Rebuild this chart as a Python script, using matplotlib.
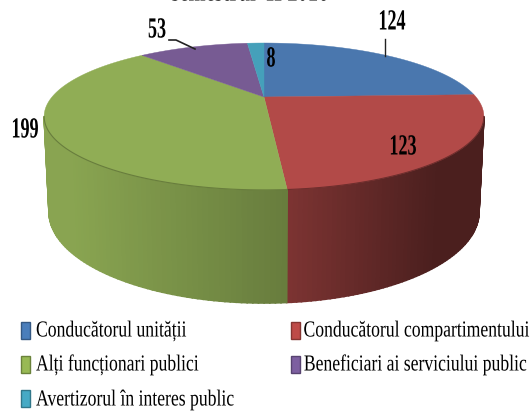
import numpy as np
import matplotlib
matplotlib.use("Agg")
import matplotlib.pyplot as plt
import matplotlib.patheffects as pe
from matplotlib.patches import Polygon, Rectangle
from matplotlib.transforms import Affine2D

# Values
labels = ['Conducătorul unității', 'Conducătorul compartimentului',
          'Alți funcționari publici', 'Beneficiari ai serviciului public',
          'Avertizorul în interes public']
values = [124, 123, 199, 53, 8]
colors = ['#4a77ae', '#b24a48', '#90ad55', '#775b93', '#45a0ba']
legend_colors = ['#4a7ebb', '#be4b48', '#98b954', '#7d5fa0', '#46aac5']
title = 'semestrul  II 2016'

plt.rcParams['font.family'] = ['Liberation Serif', 'DejaVu Serif']


class Squeeze(pe.AbstractPathEffect):
    # the reference text is tall and narrow, so squash it sideways around x0
    def __init__(self, x0, sx):
        super().__init__()
        self.x0 = x0
        self.sx = sx

    def draw_path(self, renderer, gc, tpath, affine, rgbFace=None):
        squash = Affine2D().translate(-self.x0, 0).scale(self.sx, 1).translate(self.x0, 0)
        renderer.draw_path(gc, tpath, affine + squash, rgbFace)


fig = plt.figure(figsize=(5.32, 4.14), dpi=100)
ax = fig.add_axes([0, 0, 1, 1])
ax.set_xlim(0, 532)
ax.set_ylim(414, 0)
ax.axis('off')

cx, cy = 264, 98
tilt = 0.265


def top_rim(theta):
    # tilted disc, near side looks bigger
    u, v = np.sin(theta), np.cos(theta)
    w = 1 + tilt * v
    return cx + 212 * u / w, cy - 68.3 * v / w


def bottom_edge(x):
    s = np.clip((x - cx) / 220, -1, 1)
    return cx + 215 * s, 213 + 91 * np.sqrt(1 - s ** 2)


def shade(rgb, f):
    return tuple(np.array(matplotlib.colors.to_rgb(rgb)) * f)


angles = np.concatenate([[0], np.cumsum(values)]) / sum(values) * 2 * np.pi
widest = np.arccos(-tilt)

# side wall: only the slices that cross the front half of the disc
for i in range(len(values)):
    a0 = max(angles[i], widest)
    a1 = min(angles[i + 1], 2 * np.pi - widest)
    if a1 <= a0:
        continue
    steps = np.linspace(a0, a1, 70)
    for s0, s1 in zip(steps[:-1], steps[1:]):
        xt0, yt0 = top_rim(s0)
        xt1, yt1 = top_rim(s1)
        xb0, yb0 = bottom_edge(xt0)
        xb1, yb1 = bottom_edge(xt1)
        xm = (xt0 + xt1) / 2
        if xm < 287:
            f = 0.95 - 0.23 * np.clip((xm - 70) / 217, 0, 1)
        else:
            f = 0.70 - 0.28 * np.clip((xm - 287) / 150, 0, 1)
        c = shade(colors[i], f)
        ax.add_patch(Polygon([(xt0, yt0), (xt1, yt1), (xb1, yb1), (xb0, yb0)],
                             facecolor=c, edgecolor=c, lw=1.2, zorder=1))

# top face
for i, c in enumerate(colors):
    t = np.linspace(angles[i], angles[i + 1], 150)
    xs, ys = top_rim(t)
    pts = np.column_stack([np.r_[cx, xs], np.r_[cy, ys]])
    ax.add_patch(Polygon(pts, facecolor=c, edgecolor=c, lw=0.3, zorder=2))

# darker line where the top face meets the wall
t = np.linspace(widest, angles[2], 100)
ax.plot(*top_rim(t), color=shade(colors[1], 0.62), lw=0.8, zorder=3)
t = np.linspace(angles[2], 2 * np.pi - widest, 100)
ax.plot(*top_rim(t), color=shade(colors[2], 0.72), lw=0.8, zorder=3)


def put_text(x, y, s, size, sx, ha='center', **kw):
    txt = ax.text(x, y, s, fontsize=size, ha=ha, va='center', **kw)
    txt.set_path_effects([Squeeze(x, sx)])
    return txt


# value labels
put_text(392, 23, str(values[0]), 21, 0.62, fontweight='bold')
put_text(403, 148, str(values[1]), 21, 0.62, fontweight='bold')
put_text(25, 131, str(values[2]), 21, 0.62, fontweight='bold')
put_text(157, 31, str(values[3]), 21, 0.62, fontweight='bold')
put_text(271, 60, str(values[4]), 21, 0.62, fontweight='bold')
ax.plot([385, 385], [40, 57], color='#222222', lw=1, zorder=4)
ax.plot([169, 176, 195], [41, 41, 50], color='#222222', lw=1.2, zorder=4)

put_text(250, -5, title, 18.5, 0.8, fontweight='bold')

# legend
swatch_pos = [(21, 331), (291, 331), (21, 365), (291, 365), (21, 400)]
text_x = [36, 529, 36, 526, 36]
text_ha = ['left', 'right', 'left', 'right', 'left']
for lab, col, (x, y), tx, ha in zip(labels, legend_colors, swatch_pos, text_x, text_ha):
    ax.add_patch(Rectangle((x, y - 8.5), 9, 17, facecolor=col,
                           edgecolor=shade(col, 0.7), lw=1, zorder=3))
    put_text(tx, y + 1, lab, 16.5, 0.77, ha=ha)

fig.savefig('out.png', dpi=100)
